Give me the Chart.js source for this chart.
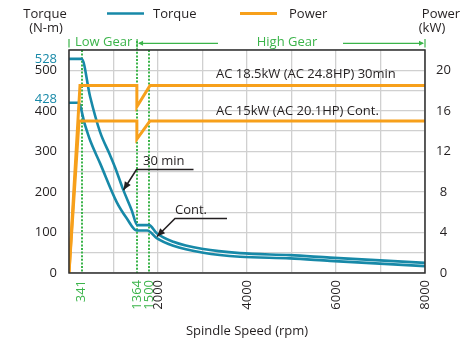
<!DOCTYPE html>
<html>
<head>
<meta charset="utf-8">
<script src="https://cdn.jsdelivr.net/npm/chart.js@4.4.1/dist/chart.umd.min.js"></script>
<style>
  html, body { margin: 0; padding: 0; background: #ffffff; }
  canvas { display: block; }
</style>
</head>
<body>
<canvas id="chart" width="461" height="346"></canvas>
<script>
const TEAL = '#1789a8';
const ORANGE = '#f7a01b';
const GREEN = '#3bb44a';
const INK = '#231f20';
const GRID = '#d0d0d0';
const FONT = "'Open Sans', sans-serif";

// torque curves, spindle speed (rpm) against N-m
const torque30Rpm = [0, 285, 472, 697, 921, 1034, 1220, 1409, 1535, 1800, 1971, 2344, 3018, 3843, 4966, 5865, 8000];
const torque30 = [528, 528, 436, 348, 291, 261, 205, 155, 118, 118, 98, 77, 59, 49, 44, 38, 25];
const torqueContRpm = [0, 209, 360, 472, 697, 1072, 1297, 1521, 1760, 1971, 2344, 3018, 3843, 4966, 5865, 8000];
const torqueCont = [420, 420, 365, 328, 271, 175, 135, 105, 105, 86, 67, 50, 40, 36, 30, 17];

// power curves, rpm against kW
const power30Rpm = [0, 247, 1525, 1525, 1820, 8000];
const power30 = [0, 18.5, 18.5, 16.4, 18.5, 18.5];
const powerContRpm = [0, 225, 1525, 1525, 1820, 8000];
const powerCont = [0, 15, 15, 13.2, 15, 15];

// gear change marks: label text and where the picture draws them
const gearLabels = ['341', '1364', '1500'];
const gearMarkRpm = [285, 1530, 1800];

const speedGrid = [0, 1000, 2000, 3000, 4000, 5000, 6000, 7000, 8000];
const speedLabels = [2000, 4000, 6000, 8000];
const torqueGrid = [0, 50, 100, 150, 200, 250, 300, 350, 400, 450, 500, 550];
const torqueLabels = [0, 100, 200, 300, 400, 500];
const ratedTorque = [428, 528];
const powerLabels = [0, 4, 8, 12, 16, 20];

function series(rpm, values) {
    return rpm.map((x, i) => ({ x, y: values[i] }));
}

function font(size = 13) {
    return { family: FONT, size };
}

function arrowHead(ctx, fromX, fromY, toX, toY, len, half) {
    const a = Math.atan2(toY - fromY, toX - fromX);
    ctx.beginPath();
    ctx.moveTo(toX, toY);
    ctx.lineTo(toX - len * Math.cos(a) + half * Math.sin(a), toY - len * Math.sin(a) - half * Math.cos(a));
    ctx.lineTo(toX - len * Math.cos(a) - half * Math.sin(a), toY - len * Math.sin(a) + half * Math.cos(a));
    ctx.closePath();
    ctx.fill();
}

function leader(ctx, pts) {
    ctx.strokeStyle = INK;
    ctx.fillStyle = INK;
    ctx.lineWidth = 1.6;
    ctx.beginPath();
    ctx.moveTo(pts[0][0], pts[0][1]);
    pts.slice(1).forEach(([x, y]) => ctx.lineTo(x, y));
    ctx.stroke();
    const n = pts.length;
    arrowHead(ctx, pts[n - 2][0], pts[n - 2][1], pts[n - 1][0], pts[n - 1][1], 8, 3.5);
}

const decor = {
    id: 'decor',
    beforeDatasetsDraw(chart) {
        const { ctx, chartArea, scales } = chart;
        ctx.save();
        ctx.strokeStyle = GREEN;
        ctx.lineWidth = 2;
        ctx.setLineDash([2, 1.6]);
        gearMarkRpm.forEach((rpm, i) => {
            const x = Math.round(scales.x.getPixelForValue(rpm));
            ctx.beginPath();
            ctx.moveTo(x, i === 1 ? 41 : chartArea.top);
            ctx.lineTo(x, chartArea.bottom);
            ctx.stroke();
        });
        ctx.restore();
    },
    afterDraw(chart) {
        const { ctx, chartArea, scales } = chart;
        ctx.save();

        // frame
        ctx.strokeStyle = '#2e2e2e';
        ctx.lineWidth = 1.5;
        ctx.strokeRect(chartArea.left, chartArea.top, chartArea.right - chartArea.left, chartArea.bottom - chartArea.top);

        ctx.font = `13px ${FONT}`;
        ctx.textBaseline = 'middle';

        // legend
        ctx.lineWidth = 2.6;
        ctx.strokeStyle = TEAL;
        ctx.beginPath(); ctx.moveTo(107, 13.5); ctx.lineTo(144, 13.5); ctx.stroke();
        ctx.strokeStyle = ORANGE;
        ctx.lineWidth = 3;
        ctx.beginPath(); ctx.moveTo(240, 13.5); ctx.lineTo(277, 13.5); ctx.stroke();
        ctx.fillStyle = INK;
        ctx.textAlign = 'left';
        ctx.fillText('Torque', 153, 14);
        ctx.fillText('Power', 289, 14);

        // axis titles
        ctx.textAlign = 'center';
        ctx.fillText('Torque', 45, 14);
        ctx.fillText('(N-m)', 46, 28.5);
        ctx.fillText('Power', 441, 14);
        ctx.fillText('(kW)', 432, 28.5);

        // gear ranges
        const gx = scales.x.getPixelForValue(gearMarkRpm[1]);
        const gy = 43.3;
        ctx.strokeStyle = GREEN;
        ctx.fillStyle = GREEN;
        ctx.lineWidth = 1.2;
        [chartArea.left, gx, chartArea.right].forEach((x) => {
            ctx.beginPath(); ctx.moveTo(x, 39); ctx.lineTo(x, 47.5); ctx.stroke();
        });
        ctx.beginPath(); ctx.moveTo(218, gy); ctx.lineTo(gx + 2, gy); ctx.stroke();
        arrowHead(ctx, 218, gy, gx + 1, gy, 5, 2.5);
        ctx.beginPath(); ctx.moveTo(343, gy); ctx.lineTo(chartArea.right - 2, gy); ctx.stroke();
        arrowHead(ctx, 343, gy, chartArea.right - 1, gy, 5, 2.5);
        ctx.textAlign = 'left';
        ctx.fillText('Low Gear', 75, 42);
        ctx.textAlign = 'center';
        ctx.fillText('High Gear', 287, 42);

        // rating notes
        ctx.fillStyle = INK;
        ctx.textAlign = 'left';
        ctx.fillText('AC 18.5kW (AC 24.8HP) 30min', 216, 74);
        ctx.fillText('AC 15kW (AC 20.1HP) Cont.', 216, 111);
        ctx.fillText('30 min', 143, 161);
        ctx.fillText('Cont.', 175, 210);
        leader(ctx, [[193.5, 169.5], [136.5, 169.5], [123.5, 190]]);
        leader(ctx, [[227, 218.5], [175, 218.5], [157, 236.5]]);

        ctx.restore();
    },
};

new Chart(document.getElementById('chart'), {
    type: 'line',
    data: {
        datasets: [
            {
                label: 'Power 30min', data: series(power30Rpm, power30), yAxisID: 'yP',
                borderColor: ORANGE, borderWidth: 3, pointRadius: 0, tension: 0, order: 0,
            },
            {
                label: 'Power Cont.', data: series(powerContRpm, powerCont), yAxisID: 'yP',
                borderColor: ORANGE, borderWidth: 3, pointRadius: 0, tension: 0, order: 0,
            },
            {
                label: 'Torque 30min', data: series(torque30Rpm, torque30), yAxisID: 'yT',
                borderColor: TEAL, borderWidth: 2.6, pointRadius: 0, cubicInterpolationMode: 'monotone', order: 1,
            },
            {
                label: 'Torque Cont.', data: series(torqueContRpm, torqueCont), yAxisID: 'yT',
                borderColor: TEAL, borderWidth: 2.6, pointRadius: 0, cubicInterpolationMode: 'monotone', order: 1,
            },
        ],
    },
    options: {
        responsive: false,
        animation: false,
        devicePixelRatio: 1,
        layout: { padding: { top: 50, left: 0, right: 0, bottom: 0 } },
        plugins: { legend: { display: false }, tooltip: { enabled: false } },
        scales: {
            x: {
                type: 'linear',
                min: 0,
                max: 8000,
                afterBuildTicks: (scale) => {
                    scale.ticks = [...speedGrid, ...gearMarkRpm].sort((a, b) => a - b).map((value) => ({ value }));
                },
                afterFit: (scale) => { scale.height = 73; },
                ticks: {
                    autoSkip: false,
                    minRotation: 90,
                    maxRotation: 90,
                    padding: 7,
                    font: font(),
                    color: (ctx) => (gearMarkRpm.includes(ctx.tick.value) ? GREEN : INK),
                    callback: (value) => {
                        const g = gearMarkRpm.indexOf(value);
                        if (g >= 0) {
                            return gearLabels[g];
                        }
                        return speedLabels.includes(value) ? String(value) : '';
                    },
                },
                grid: {
                    drawTicks: false,
                    lineWidth: 1.3,
                    color: (ctx) => (ctx.tick && gearMarkRpm.includes(ctx.tick.value) ? 'rgba(0,0,0,0)' : GRID),
                },
                border: { display: false },
                title: {
                    display: true,
                    text: 'Spindle Speed (rpm)',
                    color: INK,
                    font: font(),
                    padding: { top: 0, bottom: 7 },
                },
            },
            yT: {
                type: 'linear',
                position: 'left',
                min: 0,
                max: 550,
                afterBuildTicks: (scale) => {
                    scale.ticks = [...torqueGrid, ...ratedTorque].sort((a, b) => a - b).map((value) => ({ value }));
                },
                afterFit: (scale) => { scale.width = 69; },
                ticks: {
                    autoSkip: false,
                    padding: 12,
                    font: font(),
                    color: (ctx) => (ratedTorque.includes(ctx.tick.value) ? TEAL : INK),
                    callback: (value) => (torqueLabels.includes(value) || ratedTorque.includes(value) ? String(value) : ''),
                },
                grid: {
                    drawTicks: false,
                    lineWidth: 1.3,
                    color: (ctx) => (ctx.tick && ratedTorque.includes(ctx.tick.value) ? 'rgba(0,0,0,0)' : GRID),
                },
                border: { display: false },
            },
            yP: {
                type: 'linear',
                position: 'right',
                min: 0,
                max: 22,
                afterBuildTicks: (scale) => {
                    scale.ticks = powerLabels.map((value) => ({ value }));
                },
                afterFit: (scale) => { scale.width = 36; },
                ticks: {
                    autoSkip: false,
                    padding: 11,
                    crossAlign: 'center',
                    font: font(),
                    color: INK,
                },
                grid: { drawOnChartArea: false, drawTicks: false },
                border: { display: false },
            },
        },
    },
    plugins: [decor],
});
</script>
</body>
</html>
